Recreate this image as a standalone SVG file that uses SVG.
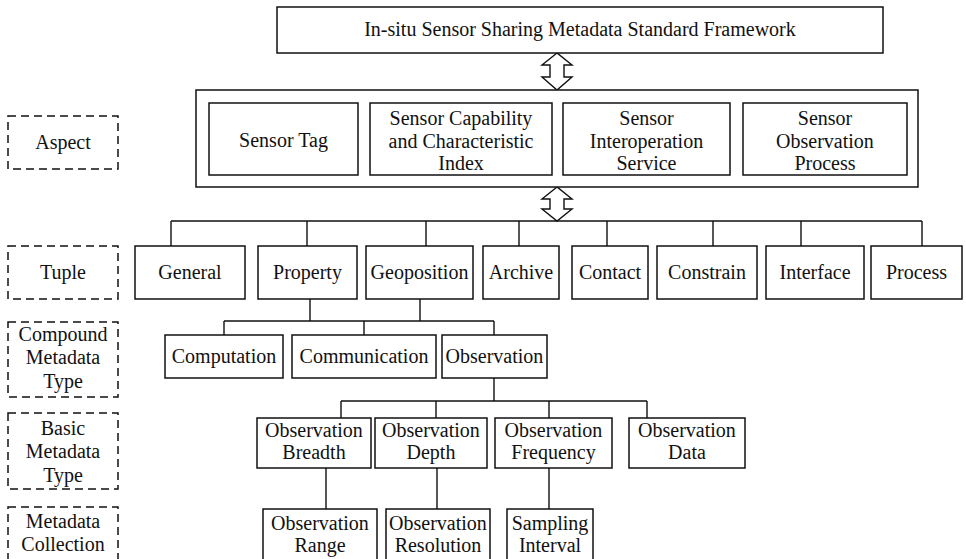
<svg xmlns="http://www.w3.org/2000/svg" width="966" height="559" viewBox="0 0 966 559">
<style>
.box{fill:#fff;stroke:#111;stroke-width:1.5}
.dash{fill:none;stroke:#111;stroke-width:1.5;stroke-dasharray:8 5}
.ln{fill:none;stroke:#111;stroke-width:1.4}
.arr{fill:#fff;stroke:#111;stroke-width:1.4;stroke-linejoin:miter}
text{font-size:20px;fill:#111;text-anchor:middle}
</style>
<rect width="966" height="559" fill="#fff"/>
<g font-family="'Liberation Serif', 'Times New Roman', 'DejaVu Serif', serif">
<g id="connectors">
<path class="arr" d="M557,53 L542,65 L550,65 L550,77 L542,77 L557,90 L572,77 L564,77 L564,65 L572,65 Z"/>
<path class="arr" d="M557,187 L542,199 L550,199 L550,209 L542,209 L557,221 L572,209 L564,209 L564,199 L572,199 Z"/>
<path class="ln" d="M171,221 H922 M171,221 V246 M307,221 V246 M426,221 V246 M519,221 V246 M607,221 V246 M713,221 V246 M801,221 V246 M922,221 V246"/>
<path class="ln" d="M310,299 V321 M420,299 V321 M224,321 H494 M224,321 V335 M364,321 V335 M494,321 V335"/>
<path class="ln" d="M494,378 V401 M341,401 H647 M341,401 V418 M436,401 V418 M549,401 V418 M647,401 V418"/>
<path class="ln" d="M326,468 V509 M437,468 V509 M549,468 V509"/>
</g>
<g id="framework"><rect class="box" x="277" y="7" width="606" height="46"/><text x="580" y="36">In-situ Sensor Sharing Metadata Standard Framework</text></g>
<g id="aspect-group"><rect class="box" x="196" y="90" width="722" height="97"/></g>
<g id="sensor-tag"><rect class="box" x="209" y="103" width="149" height="72"/><text x="283.5" y="147">Sensor Tag</text></g>
<g id="sensor-capability"><rect class="box" x="370" y="103" width="182" height="72"/><text x="461" y="125">Sensor Capability</text><text x="461" y="148">and Characteristic</text><text x="461" y="170">Index</text></g>
<g id="sensor-interop"><rect class="box" x="563" y="103" width="167" height="72"/><text x="646.5" y="125">Sensor</text><text x="646.5" y="148">Interoperation</text><text x="646.5" y="170">Service</text></g>
<g id="sensor-obs-process"><rect class="box" x="743" y="103" width="164" height="72"/><text x="825" y="125">Sensor</text><text x="825" y="148">Observation</text><text x="825" y="170">Process</text></g>
<g id="label-aspect"><rect class="dash" x="8" y="116" width="110" height="53"/><text x="63" y="149">Aspect</text></g>
<g id="label-tuple"><rect class="dash" x="8" y="246" width="110" height="53"/><text x="63" y="279">Tuple</text></g>
<g id="label-compound"><rect class="dash" x="8" y="322" width="110" height="75"/><text x="63" y="341">Compound</text><text x="63" y="364">Metadata</text><text x="63" y="388">Type</text></g>
<g id="label-basic"><rect class="dash" x="8" y="413" width="110" height="76"/><text x="63" y="435">Basic</text><text x="63" y="458">Metadata</text><text x="63" y="482">Type</text></g>
<g id="label-collection"><rect class="dash" x="8" y="507" width="110" height="60"/><text x="63" y="528">Metadata</text><text x="63" y="551">Collection</text></g>
<g id="general"><rect class="box" x="135" y="246" width="110" height="53"/><text x="190" y="279">General</text></g>
<g id="property"><rect class="box" x="258" y="246" width="99" height="53"/><text x="307.5" y="279">Property</text></g>
<g id="geoposition"><rect class="box" x="366" y="246" width="107" height="53"/><text x="419.5" y="279">Geoposition</text></g>
<g id="archive"><rect class="box" x="483" y="246" width="76" height="53"/><text x="521" y="279">Archive</text></g>
<g id="contact"><rect class="box" x="572" y="246" width="76" height="53"/><text x="610" y="279">Contact</text></g>
<g id="constrain"><rect class="box" x="657" y="246" width="100" height="53"/><text x="707" y="279">Constrain</text></g>
<g id="interface"><rect class="box" x="766" y="246" width="98" height="53"/><text x="815" y="279">Interface</text></g>
<g id="process"><rect class="box" x="871" y="246" width="91" height="53"/><text x="916.5" y="279">Process</text></g>
<g id="computation"><rect class="box" x="165" y="335" width="118" height="43"/><text x="224" y="363">Computation</text></g>
<g id="communication"><rect class="box" x="292" y="335" width="144" height="43"/><text x="364" y="363">Communication</text></g>
<g id="observation"><rect class="box" x="442" y="335" width="105" height="43"/><text x="494.5" y="363">Observation</text></g>
<g id="obs-breadth"><rect class="box" x="257" y="418" width="114" height="50"/><text x="314" y="437">Observation</text><text x="314" y="459">Breadth</text></g>
<g id="obs-depth"><rect class="box" x="375" y="418" width="112" height="50"/><text x="431" y="437">Observation</text><text x="431" y="459">Depth</text></g>
<g id="obs-frequency"><rect class="box" x="495" y="418" width="117" height="50"/><text x="553.5" y="437">Observation</text><text x="553.5" y="459">Frequency</text></g>
<g id="obs-data"><rect class="box" x="629" y="418" width="116" height="50"/><text x="687" y="437">Observation</text><text x="687" y="459">Data</text></g>
<g id="obs-range"><rect class="box" x="263" y="509" width="114" height="58"/><text x="320" y="530">Observation</text><text x="320" y="552">Range</text></g>
<g id="obs-resolution"><rect class="box" x="386" y="509" width="104" height="58"/><text x="438" y="530">Observation</text><text x="438" y="552">Resolution</text></g>
<g id="sampling-interval"><rect class="box" x="507" y="509" width="86" height="58"/><text x="550" y="530">Sampling</text><text x="550" y="552">Interval</text></g>
</g>
</svg>
